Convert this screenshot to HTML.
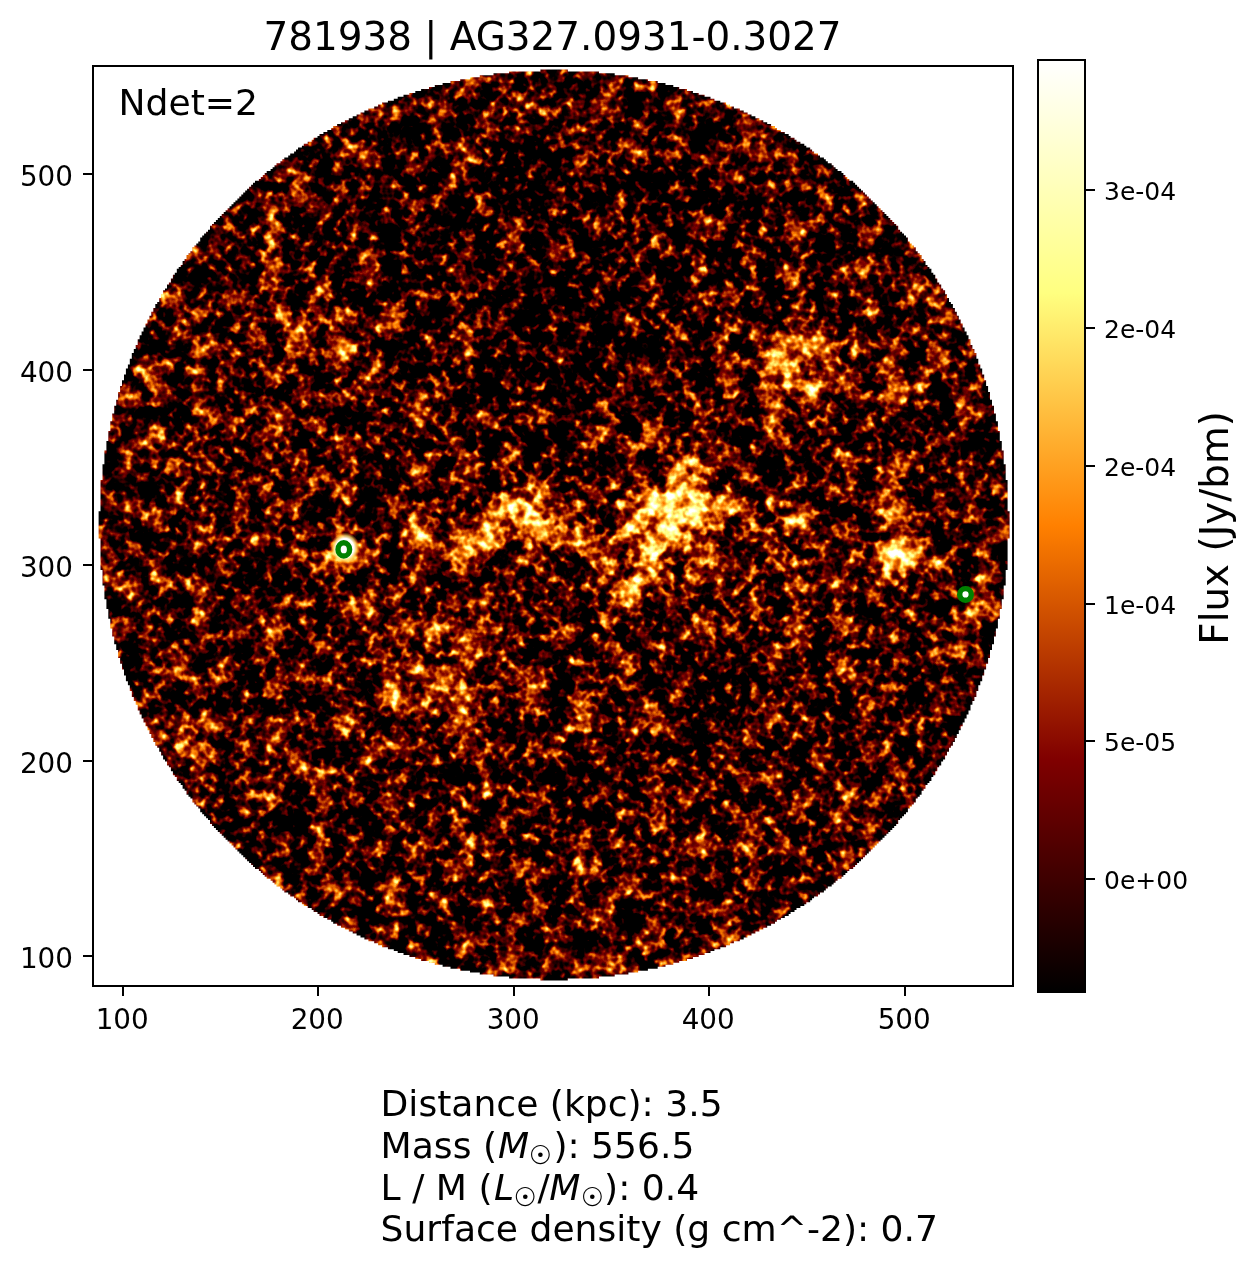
<!DOCTYPE html>
<html><head><meta charset="utf-8"><title>781938 | AG327.0931-0.3027</title>
<style>
html,body{margin:0;padding:0;background:#fff;width:1257px;height:1267px;overflow:hidden}
svg{position:absolute;left:0;top:0;display:block}
text{font-family:"DejaVu Sans","Liberation Sans",sans-serif;fill:#000}
.od{font-family:"Noto Serif CJK SC","DejaVu Sans",serif}
</style></head><body>
<svg width="1257" height="1267" viewBox="0 0 1257 1267">
<defs>
<linearGradient id="cb" x1="0" y1="1" x2="0" y2="0">
<stop offset="0" stop-color="#000"/>
<stop offset="0.25" stop-color="#800000"/>
<stop offset="0.5" stop-color="#ff8000"/>
<stop offset="0.75" stop-color="#ffff80"/>
<stop offset="1" stop-color="#fff"/>
</linearGradient>
<filter id="tex" x="94" y="66" width="918" height="918" filterUnits="userSpaceOnUse" color-interpolation-filters="sRGB">
<feTurbulence type="fractalNoise" baseFrequency="0.12" numOctaves="2" seed="21" result="t1"/>
<feColorMatrix in="t1" type="matrix" values="1 0 0 0 0  1 0 0 0 0  1 0 0 0 0  0 0 0 0 1" result="n1a"/>
<feComponentTransfer in="n1a" result="n1"><feFuncR type="gamma" amplitude="1.3" exponent="2" offset="0"/><feFuncG type="gamma" amplitude="1.3" exponent="2" offset="0"/><feFuncB type="gamma" amplitude="1.3" exponent="2" offset="0"/></feComponentTransfer>
<feTurbulence type="fractalNoise" baseFrequency="0.042" numOctaves="2" seed="29" result="t2"/>
<feColorMatrix in="t2" type="matrix" values="1 0 0 0 0  1 0 0 0 0  1 0 0 0 0  0 0 0 0 1" result="n2"/>
<feComposite in="n1" in2="n2" operator="arithmetic" k1="0" k2="0.5000" k3="0.6000" k4="0.0285" result="nn"/>
<feComposite in="SourceGraphic" in2="nn" operator="arithmetic" k1="0" k2="1" k3="2.0" k4="-1.2500" result="v"/>
<feComponentTransfer in="v">
<feFuncR type="table" tableValues="0 0.25 0.5 0.75 1 1 1 1 1"/>
<feFuncG type="table" tableValues="0 0 0 0.25 0.5 0.75 1 1 1"/>
<feFuncB type="table" tableValues="0 0 0 0 0 0.25 0.5 0.75 1"/>
<feFuncA type="linear" slope="0" intercept="1"/>
</feComponentTransfer>
</filter>
<radialGradient id="gw"><stop offset="0" stop-color="#fff" stop-opacity="1"/><stop offset="0.3" stop-color="#fff" stop-opacity="0.8"/><stop offset="0.6" stop-color="#fff" stop-opacity="0.35"/><stop offset="0.85" stop-color="#fff" stop-opacity="0.08"/><stop offset="1" stop-color="#fff" stop-opacity="0"/></radialGradient>
<radialGradient id="gk"><stop offset="0" stop-color="#000" stop-opacity="1"/><stop offset="0.3" stop-color="#000" stop-opacity="0.8"/><stop offset="0.6" stop-color="#000" stop-opacity="0.35"/><stop offset="0.85" stop-color="#000" stop-opacity="0.08"/><stop offset="1" stop-color="#000" stop-opacity="0"/></radialGradient>
<clipPath id="disc"><path d="M567.8 69.4 567.8 71.4 599.0 71.4 599.0 73.3 614.7 73.3 614.7 75.3 628.4 75.3 628.4 77.2 638.1 77.2 638.1 79.2 647.9 79.2 647.9 81.1 657.7 81.1 657.7 83.1 665.5 83.1 665.5 85.0 673.3 85.0 673.3 87.0 679.2 87.0 679.2 89.0 687.0 89.0 687.0 90.9 692.9 90.9 692.9 92.9 698.7 92.9 698.7 94.8 704.6 94.8 704.6 96.8 710.5 96.8 710.5 98.7 714.4 98.7 714.4 100.7 720.3 100.7 720.3 102.6 726.1 102.6 726.1 104.6 730.0 104.6 730.0 106.6 733.9 106.6 733.9 108.5 739.8 108.5 739.8 110.5 743.7 110.5 743.7 112.4 747.6 112.4 747.6 114.4 751.5 114.4 751.5 116.3 755.4 116.3 755.4 118.3 759.4 118.3 759.4 120.2 763.3 120.2 763.3 122.2 767.2 122.2 767.2 124.1 771.1 124.1 771.1 126.1 775.0 126.1 775.0 128.1 776.9 128.1 776.9 130.0 780.9 130.0 780.9 132.0 784.8 132.0 784.8 133.9 788.7 133.9 788.7 135.9 790.6 135.9 790.6 137.8 794.5 137.8 794.5 139.8 796.5 139.8 796.5 141.7 800.4 141.7 800.4 143.7 804.3 143.7 804.3 145.7 806.3 145.7 806.3 147.6 810.2 147.6 810.2 149.6 812.1 149.6 812.1 151.5 814.1 151.5 814.1 153.5 818.0 153.5 818.0 155.4 820.0 155.4 820.0 157.4 823.9 157.4 823.9 159.3 825.8 159.3 825.8 161.3 827.8 161.3 827.8 163.2 831.7 163.2 831.7 165.2 833.6 165.2 833.6 167.2 835.6 167.2 835.6 169.1 837.6 169.1 837.6 171.1 841.5 171.1 841.5 173.0 843.4 173.0 843.4 175.0 845.4 175.0 845.4 176.9 847.3 176.9 847.3 178.9 849.3 178.9 849.3 180.8 853.2 180.8 853.2 182.8 855.1 182.8 855.1 184.8 857.1 184.8 857.1 186.7 859.1 186.7 859.1 188.7 861.0 188.7 861.0 190.6 863.0 190.6 863.0 192.6 864.9 192.6 864.9 194.5 866.9 194.5 866.9 196.5 868.8 196.5 868.8 198.4 870.8 198.4 870.8 200.4 872.7 200.4 872.7 202.3 874.7 202.3 874.7 204.3 876.7 204.3 876.7 206.3 878.6 206.3 878.6 208.2 880.6 208.2 880.6 210.2 882.5 210.2 882.5 212.1 884.5 212.1 884.5 214.1 886.4 214.1 886.4 216.0 888.4 216.0 888.4 218.0 890.3 218.0 890.3 219.9 892.3 219.9 892.3 221.9 894.2 221.9 894.2 223.9 896.2 223.9 896.2 225.8 898.2 225.8 898.2 227.8 898.2 229.7 900.1 229.7 900.1 231.7 902.1 231.7 902.1 233.6 904.0 233.6 904.0 235.6 906.0 235.6 906.0 237.5 907.9 237.5 907.9 239.5 907.9 241.4 909.9 241.4 909.9 243.4 911.8 243.4 911.8 245.4 913.8 245.4 913.8 247.3 915.8 247.3 915.8 249.3 915.8 251.2 917.7 251.2 917.7 253.2 919.7 253.2 919.7 255.1 921.6 255.1 921.6 257.1 921.6 259.0 923.6 259.0 923.6 261.0 925.5 261.0 925.5 263.0 925.5 264.9 927.5 264.9 927.5 266.9 929.4 266.9 929.4 268.8 931.4 268.8 931.4 270.8 931.4 272.7 933.3 272.7 933.3 274.7 935.3 274.7 935.3 276.6 935.3 278.6 937.3 278.6 937.3 280.5 937.3 282.5 939.2 282.5 939.2 284.5 941.2 284.5 941.2 286.4 941.2 288.4 943.1 288.4 943.1 290.3 945.1 290.3 945.1 292.3 945.1 294.2 947.0 294.2 947.0 296.2 947.0 298.1 949.0 298.1 949.0 300.1 949.0 302.1 950.9 302.1 950.9 304.0 952.9 304.0 952.9 306.0 952.9 307.9 954.9 307.9 954.9 309.9 954.9 311.8 956.8 311.8 956.8 313.8 956.8 315.7 958.8 315.7 958.8 317.7 958.8 319.6 960.7 319.6 960.7 321.6 960.7 323.6 962.7 323.6 962.7 325.5 962.7 327.5 964.6 327.5 964.6 329.4 964.6 331.4 966.6 331.4 966.6 333.3 966.6 335.3 968.5 335.3 968.5 337.2 968.5 339.2 970.5 339.2 970.5 341.2 970.5 343.1 970.5 345.1 972.4 345.1 972.4 347.0 972.4 349.0 974.4 349.0 974.4 350.9 974.4 352.9 976.4 352.9 976.4 354.8 976.4 356.8 976.4 358.7 978.3 358.7 978.3 360.7 978.3 362.7 978.3 364.6 980.3 364.6 980.3 366.6 980.3 368.5 982.2 368.5 982.2 370.5 982.2 372.4 982.2 374.4 984.2 374.4 984.2 376.3 984.2 378.3 984.2 380.3 986.1 380.3 986.1 382.2 986.1 384.2 986.1 386.1 988.1 386.1 988.1 388.1 988.1 390.0 988.1 392.0 990.0 392.0 990.0 393.9 990.0 395.9 990.0 397.8 990.0 399.8 992.0 399.8 992.0 401.8 992.0 403.7 992.0 405.7 994.0 405.7 994.0 407.6 994.0 409.6 994.0 411.5 994.0 413.5 995.9 413.5 995.9 415.4 995.9 417.4 995.9 419.4 995.9 421.3 997.9 421.3 997.9 423.3 997.9 425.2 997.9 427.2 997.9 429.1 997.9 431.1 999.8 431.1 999.8 433.0 999.8 435.0 999.8 436.9 999.8 438.9 999.8 440.9 1001.8 440.9 1001.8 442.8 1001.8 444.8 1001.8 446.7 1001.8 448.7 1001.8 450.6 1003.7 450.6 1003.7 452.6 1003.7 454.5 1003.7 456.5 1003.7 458.5 1003.7 460.4 1003.7 462.4 1003.7 464.3 1005.7 464.3 1005.7 466.3 1005.7 468.2 1005.7 470.2 1005.7 472.1 1005.7 474.1 1005.7 476.0 1005.7 478.0 1005.7 480.0 1007.6 480.0 1007.6 481.9 1007.6 483.9 1007.6 485.8 1007.6 487.8 1007.6 489.7 1007.6 491.7 1007.6 493.6 1007.6 495.6 1007.6 497.6 1007.6 499.5 1007.6 501.5 1007.6 503.4 1007.6 505.4 1007.6 507.3 1007.6 509.3 1007.6 511.2 1009.6 511.2 1009.6 513.2 1009.6 515.1 1009.6 517.1 1009.6 519.1 1009.6 521.0 1009.6 523.0 1009.6 524.9 1009.6 526.9 1009.6 528.8 1009.6 530.8 1009.6 532.7 1009.6 534.7 1009.6 536.7 1009.6 538.6 1007.6 538.6 1007.6 540.6 1007.6 542.5 1007.6 544.5 1007.6 546.4 1007.6 548.4 1007.6 550.3 1007.6 552.3 1007.6 554.2 1007.6 556.2 1007.6 558.2 1007.6 560.1 1007.6 562.1 1007.6 564.0 1007.6 566.0 1007.6 567.9 1007.6 569.9 1005.7 569.9 1005.7 571.8 1005.7 573.8 1005.7 575.8 1005.7 577.7 1005.7 579.7 1005.7 581.6 1005.7 583.6 1005.7 585.5 1003.7 585.5 1003.7 587.5 1003.7 589.4 1003.7 591.4 1003.7 593.3 1003.7 595.3 1003.7 597.3 1003.7 599.2 1001.8 599.2 1001.8 601.2 1001.8 603.1 1001.8 605.1 1001.8 607.0 1001.8 609.0 999.8 609.0 999.8 610.9 999.8 612.9 999.8 614.9 999.8 616.8 999.8 618.8 997.9 618.8 997.9 620.7 997.9 622.7 997.9 624.6 997.9 626.6 997.9 628.5 995.9 628.5 995.9 630.5 995.9 632.4 995.9 634.4 995.9 636.4 994.0 636.4 994.0 638.3 994.0 640.3 994.0 642.2 994.0 644.2 992.0 644.2 992.0 646.1 992.0 648.1 992.0 650.0 990.0 650.0 990.0 652.0 990.0 654.0 990.0 655.9 990.0 657.9 988.1 657.9 988.1 659.8 988.1 661.8 988.1 663.7 986.1 663.7 986.1 665.7 986.1 667.6 986.1 669.6 984.2 669.6 984.2 671.5 984.2 673.5 984.2 675.5 982.2 675.5 982.2 677.4 982.2 679.4 982.2 681.3 980.3 681.3 980.3 683.3 980.3 685.2 978.3 685.2 978.3 687.2 978.3 689.1 978.3 691.1 976.4 691.1 976.4 693.1 976.4 695.0 976.4 697.0 974.4 697.0 974.4 698.9 974.4 700.9 972.4 700.9 972.4 702.8 972.4 704.8 970.5 704.8 970.5 706.7 970.5 708.7 970.5 710.6 968.5 710.6 968.5 712.6 968.5 714.6 966.6 714.6 966.6 716.5 966.6 718.5 964.6 718.5 964.6 720.4 964.6 722.4 962.7 722.4 962.7 724.3 962.7 726.3 960.7 726.3 960.7 728.2 960.7 730.2 958.8 730.2 958.8 732.2 958.8 734.1 956.8 734.1 956.8 736.1 956.8 738.0 954.9 738.0 954.9 740.0 954.9 741.9 952.9 741.9 952.9 743.9 952.9 745.8 950.9 745.8 950.9 747.8 949.0 747.8 949.0 749.7 949.0 751.7 947.0 751.7 947.0 753.7 947.0 755.6 945.1 755.6 945.1 757.6 945.1 759.5 943.1 759.5 943.1 761.5 941.2 761.5 941.2 763.4 941.2 765.4 939.2 765.4 939.2 767.3 937.3 767.3 937.3 769.3 937.3 771.3 935.3 771.3 935.3 773.2 935.3 775.2 933.3 775.2 933.3 777.1 931.4 777.1 931.4 779.1 931.4 781.0 929.4 781.0 929.4 783.0 927.5 783.0 927.5 784.9 925.5 784.9 925.5 786.9 925.5 788.8 923.6 788.8 923.6 790.8 921.6 790.8 921.6 792.8 921.6 794.7 919.7 794.7 919.7 796.7 917.7 796.7 917.7 798.6 915.8 798.6 915.8 800.6 915.8 802.5 913.8 802.5 913.8 804.5 911.8 804.5 911.8 806.4 909.9 806.4 909.9 808.4 907.9 808.4 907.9 810.4 907.9 812.3 906.0 812.3 906.0 814.3 904.0 814.3 904.0 816.2 902.1 816.2 902.1 818.2 900.1 818.2 900.1 820.1 898.2 820.1 898.2 822.1 898.2 824.0 896.2 824.0 896.2 826.0 894.2 826.0 894.2 827.9 892.3 827.9 892.3 829.9 890.3 829.9 890.3 831.9 888.4 831.9 888.4 833.8 886.4 833.8 886.4 835.8 884.5 835.8 884.5 837.7 882.5 837.7 882.5 839.7 880.6 839.7 880.6 841.6 878.6 841.6 878.6 843.6 876.7 843.6 876.7 845.5 874.7 845.5 874.7 847.5 872.7 847.5 872.7 849.5 870.8 849.5 870.8 851.4 868.8 851.4 868.8 853.4 866.9 853.4 866.9 855.3 864.9 855.3 864.9 857.3 863.0 857.3 863.0 859.2 861.0 859.2 861.0 861.2 859.1 861.2 859.1 863.1 857.1 863.1 857.1 865.1 855.1 865.1 855.1 867.0 853.2 867.0 853.2 869.0 849.3 869.0 849.3 871.0 847.3 871.0 847.3 872.9 845.4 872.9 845.4 874.9 843.4 874.9 843.4 876.8 841.5 876.8 841.5 878.8 837.6 878.8 837.6 880.7 835.6 880.7 835.6 882.7 833.6 882.7 833.6 884.6 831.7 884.6 831.7 886.6 827.8 886.6 827.8 888.6 825.8 888.6 825.8 890.5 823.9 890.5 823.9 892.5 820.0 892.5 820.0 894.4 818.0 894.4 818.0 896.4 814.1 896.4 814.1 898.3 812.1 898.3 812.1 900.3 810.2 900.3 810.2 902.2 806.3 902.2 806.3 904.2 804.3 904.2 804.3 906.1 800.4 906.1 800.4 908.1 796.5 908.1 796.5 910.1 794.5 910.1 794.5 912.0 790.6 912.0 790.6 914.0 788.7 914.0 788.7 915.9 784.8 915.9 784.8 917.9 780.9 917.9 780.9 919.8 776.9 919.8 776.9 921.8 775.0 921.8 775.0 923.7 771.1 923.7 771.1 925.7 767.2 925.7 767.2 927.7 763.3 927.7 763.3 929.6 759.4 929.6 759.4 931.6 755.4 931.6 755.4 933.5 751.5 933.5 751.5 935.5 747.6 935.5 747.6 937.4 743.7 937.4 743.7 939.4 739.8 939.4 739.8 941.3 733.9 941.3 733.9 943.3 730.0 943.3 730.0 945.2 726.1 945.2 726.1 947.2 720.3 947.2 720.3 949.2 714.4 949.2 714.4 951.1 710.5 951.1 710.5 953.1 704.6 953.1 704.6 955.0 698.7 955.0 698.7 957.0 692.9 957.0 692.9 958.9 687.0 958.9 687.0 960.9 679.2 960.9 679.2 962.8 673.3 962.8 673.3 964.8 665.5 964.8 665.5 966.8 657.7 966.8 657.7 968.7 647.9 968.7 647.9 970.7 638.1 970.7 638.1 972.6 628.4 972.6 628.4 974.6 614.7 974.6 614.7 976.5 599.0 976.5 599.0 978.5 567.8 978.5 567.8 980.4 540.4 980.4 540.4 978.5 509.1 978.5 509.1 976.5 493.5 976.5 493.5 974.6 479.8 974.6 479.8 972.6 470.0 972.6 470.0 970.7 460.2 970.7 460.2 968.7 450.5 968.7 450.5 966.8 442.6 966.8 442.6 964.8 434.8 964.8 434.8 962.8 429.0 962.8 429.0 960.9 421.1 960.9 421.1 958.9 415.3 958.9 415.3 957.0 409.4 957.0 409.4 955.0 403.5 955.0 403.5 953.1 397.7 953.1 397.7 951.1 393.8 951.1 393.8 949.2 387.9 949.2 387.9 947.2 382.0 947.2 382.0 945.2 378.1 945.2 378.1 943.3 374.2 943.3 374.2 941.3 368.4 941.3 368.4 939.4 364.4 939.4 364.4 937.4 360.5 937.4 360.5 935.5 356.6 935.5 356.6 933.5 352.7 933.5 352.7 931.6 348.8 931.6 348.8 929.6 344.9 929.6 344.9 927.7 341.0 927.7 341.0 925.7 337.1 925.7 337.1 923.7 333.2 923.7 333.2 921.8 331.2 921.8 331.2 919.8 327.3 919.8 327.3 917.9 323.4 917.9 323.4 915.9 319.5 915.9 319.5 914.0 317.5 914.0 317.5 912.0 313.6 912.0 313.6 910.1 311.7 910.1 311.7 908.1 307.7 908.1 307.7 906.1 303.8 906.1 303.8 904.2 301.9 904.2 301.9 902.2 298.0 902.2 298.0 900.3 296.0 900.3 296.0 898.3 294.1 898.3 294.1 896.4 290.2 896.4 290.2 894.4 288.2 894.4 288.2 892.5 284.3 892.5 284.3 890.5 282.3 890.5 282.3 888.6 280.4 888.6 280.4 886.6 276.5 886.6 276.5 884.6 274.5 884.6 274.5 882.7 272.6 882.7 272.6 880.7 270.6 880.7 270.6 878.8 266.7 878.8 266.7 876.8 264.7 876.8 264.7 874.9 262.8 874.9 262.8 872.9 260.8 872.9 260.8 871.0 258.9 871.0 258.9 869.0 255.0 869.0 255.0 867.0 253.0 867.0 253.0 865.1 251.1 865.1 251.1 863.1 249.1 863.1 249.1 861.2 247.1 861.2 247.1 859.2 245.2 859.2 245.2 857.3 243.2 857.3 243.2 855.3 241.3 855.3 241.3 853.4 239.3 853.4 239.3 851.4 237.4 851.4 237.4 849.5 235.4 849.5 235.4 847.5 233.5 847.5 233.5 845.5 231.5 845.5 231.5 843.6 229.5 843.6 229.5 841.6 227.6 841.6 227.6 839.7 225.6 839.7 225.6 837.7 223.7 837.7 223.7 835.8 221.7 835.8 221.7 833.8 219.8 833.8 219.8 831.9 217.8 831.9 217.8 829.9 215.9 829.9 215.9 827.9 213.9 827.9 213.9 826.0 212.0 826.0 212.0 824.0 210.0 824.0 210.0 822.1 210.0 820.1 208.0 820.1 208.0 818.2 206.1 818.2 206.1 816.2 204.1 816.2 204.1 814.3 202.2 814.3 202.2 812.3 200.2 812.3 200.2 810.4 200.2 808.4 198.3 808.4 198.3 806.4 196.3 806.4 196.3 804.5 194.4 804.5 194.4 802.5 192.4 802.5 192.4 800.6 192.4 798.6 190.4 798.6 190.4 796.7 188.5 796.7 188.5 794.7 186.5 794.7 186.5 792.8 186.5 790.8 184.6 790.8 184.6 788.8 182.6 788.8 182.6 786.9 182.6 784.9 180.7 784.9 180.7 783.0 178.7 783.0 178.7 781.0 176.8 781.0 176.8 779.1 176.8 777.1 174.8 777.1 174.8 775.2 172.9 775.2 172.9 773.2 172.9 771.3 170.9 771.3 170.9 769.3 170.9 767.3 168.9 767.3 168.9 765.4 167.0 765.4 167.0 763.4 167.0 761.5 165.0 761.5 165.0 759.5 163.1 759.5 163.1 757.6 163.1 755.6 161.1 755.6 161.1 753.7 161.1 751.7 159.2 751.7 159.2 749.7 159.2 747.8 157.2 747.8 157.2 745.8 155.3 745.8 155.3 743.9 155.3 741.9 153.3 741.9 153.3 740.0 153.3 738.0 151.3 738.0 151.3 736.1 151.3 734.1 149.4 734.1 149.4 732.2 149.4 730.2 147.4 730.2 147.4 728.2 147.4 726.3 145.5 726.3 145.5 724.3 145.5 722.4 143.5 722.4 143.5 720.4 143.5 718.5 141.6 718.5 141.6 716.5 141.6 714.6 139.6 714.6 139.6 712.6 139.6 710.6 137.7 710.6 137.7 708.7 137.7 706.7 137.7 704.8 135.7 704.8 135.7 702.8 135.7 700.9 133.8 700.9 133.8 698.9 133.8 697.0 131.8 697.0 131.8 695.0 131.8 693.1 131.8 691.1 129.8 691.1 129.8 689.1 129.8 687.2 129.8 685.2 127.9 685.2 127.9 683.3 127.9 681.3 125.9 681.3 125.9 679.4 125.9 677.4 125.9 675.5 124.0 675.5 124.0 673.5 124.0 671.5 124.0 669.6 122.0 669.6 122.0 667.6 122.0 665.7 122.0 663.7 120.1 663.7 120.1 661.8 120.1 659.8 120.1 657.9 118.1 657.9 118.1 655.9 118.1 654.0 118.1 652.0 118.1 650.0 116.2 650.0 116.2 648.1 116.2 646.1 116.2 644.2 114.2 644.2 114.2 642.2 114.2 640.3 114.2 638.3 114.2 636.4 112.2 636.4 112.2 634.4 112.2 632.4 112.2 630.5 112.2 628.5 110.3 628.5 110.3 626.6 110.3 624.6 110.3 622.7 110.3 620.7 110.3 618.8 108.3 618.8 108.3 616.8 108.3 614.9 108.3 612.9 108.3 610.9 108.3 609.0 106.4 609.0 106.4 607.0 106.4 605.1 106.4 603.1 106.4 601.2 106.4 599.2 104.4 599.2 104.4 597.3 104.4 595.3 104.4 593.3 104.4 591.4 104.4 589.4 104.4 587.5 104.4 585.5 102.5 585.5 102.5 583.6 102.5 581.6 102.5 579.7 102.5 577.7 102.5 575.8 102.5 573.8 102.5 571.8 102.5 569.9 100.5 569.9 100.5 567.9 100.5 566.0 100.5 564.0 100.5 562.1 100.5 560.1 100.5 558.2 100.5 556.2 100.5 554.2 100.5 552.3 100.5 550.3 100.5 548.4 100.5 546.4 100.5 544.5 100.5 542.5 100.5 540.6 100.5 538.6 98.6 538.6 98.6 536.7 98.6 534.7 98.6 532.7 98.6 530.8 98.6 528.8 98.6 526.9 98.6 524.9 98.6 523.0 98.6 521.0 98.6 519.1 98.6 517.1 98.6 515.1 98.6 513.2 98.6 511.2 100.5 511.2 100.5 509.3 100.5 507.3 100.5 505.4 100.5 503.4 100.5 501.5 100.5 499.5 100.5 497.6 100.5 495.6 100.5 493.6 100.5 491.7 100.5 489.7 100.5 487.8 100.5 485.8 100.5 483.9 100.5 481.9 100.5 480.0 102.5 480.0 102.5 478.0 102.5 476.0 102.5 474.1 102.5 472.1 102.5 470.2 102.5 468.2 102.5 466.3 102.5 464.3 104.4 464.3 104.4 462.4 104.4 460.4 104.4 458.5 104.4 456.5 104.4 454.5 104.4 452.6 104.4 450.6 106.4 450.6 106.4 448.7 106.4 446.7 106.4 444.8 106.4 442.8 106.4 440.9 108.3 440.9 108.3 438.9 108.3 436.9 108.3 435.0 108.3 433.0 108.3 431.1 110.3 431.1 110.3 429.1 110.3 427.2 110.3 425.2 110.3 423.3 110.3 421.3 112.2 421.3 112.2 419.4 112.2 417.4 112.2 415.4 112.2 413.5 114.2 413.5 114.2 411.5 114.2 409.6 114.2 407.6 114.2 405.7 116.2 405.7 116.2 403.7 116.2 401.8 116.2 399.8 118.1 399.8 118.1 397.8 118.1 395.9 118.1 393.9 118.1 392.0 120.1 392.0 120.1 390.0 120.1 388.1 120.1 386.1 122.0 386.1 122.0 384.2 122.0 382.2 122.0 380.3 124.0 380.3 124.0 378.3 124.0 376.3 124.0 374.4 125.9 374.4 125.9 372.4 125.9 370.5 125.9 368.5 127.9 368.5 127.9 366.6 127.9 364.6 129.8 364.6 129.8 362.7 129.8 360.7 129.8 358.7 131.8 358.7 131.8 356.8 131.8 354.8 131.8 352.9 133.8 352.9 133.8 350.9 133.8 349.0 135.7 349.0 135.7 347.0 135.7 345.1 137.7 345.1 137.7 343.1 137.7 341.2 137.7 339.2 139.6 339.2 139.6 337.2 139.6 335.3 141.6 335.3 141.6 333.3 141.6 331.4 143.5 331.4 143.5 329.4 143.5 327.5 145.5 327.5 145.5 325.5 145.5 323.6 147.4 323.6 147.4 321.6 147.4 319.6 149.4 319.6 149.4 317.7 149.4 315.7 151.3 315.7 151.3 313.8 151.3 311.8 153.3 311.8 153.3 309.9 153.3 307.9 155.3 307.9 155.3 306.0 155.3 304.0 157.2 304.0 157.2 302.1 159.2 302.1 159.2 300.1 159.2 298.1 161.1 298.1 161.1 296.2 161.1 294.2 163.1 294.2 163.1 292.3 163.1 290.3 165.0 290.3 165.0 288.4 167.0 288.4 167.0 286.4 167.0 284.5 168.9 284.5 168.9 282.5 170.9 282.5 170.9 280.5 170.9 278.6 172.9 278.6 172.9 276.6 172.9 274.7 174.8 274.7 174.8 272.7 176.8 272.7 176.8 270.8 176.8 268.8 178.7 268.8 178.7 266.9 180.7 266.9 180.7 264.9 182.6 264.9 182.6 263.0 182.6 261.0 184.6 261.0 184.6 259.0 186.5 259.0 186.5 257.1 186.5 255.1 188.5 255.1 188.5 253.2 190.4 253.2 190.4 251.2 192.4 251.2 192.4 249.3 192.4 247.3 194.4 247.3 194.4 245.4 196.3 245.4 196.3 243.4 198.3 243.4 198.3 241.4 200.2 241.4 200.2 239.5 200.2 237.5 202.2 237.5 202.2 235.6 204.1 235.6 204.1 233.6 206.1 233.6 206.1 231.7 208.0 231.7 208.0 229.7 210.0 229.7 210.0 227.8 210.0 225.8 212.0 225.8 212.0 223.9 213.9 223.9 213.9 221.9 215.9 221.9 215.9 219.9 217.8 219.9 217.8 218.0 219.8 218.0 219.8 216.0 221.7 216.0 221.7 214.1 223.7 214.1 223.7 212.1 225.6 212.1 225.6 210.2 227.6 210.2 227.6 208.2 229.5 208.2 229.5 206.3 231.5 206.3 231.5 204.3 233.5 204.3 233.5 202.3 235.4 202.3 235.4 200.4 237.4 200.4 237.4 198.4 239.3 198.4 239.3 196.5 241.3 196.5 241.3 194.5 243.2 194.5 243.2 192.6 245.2 192.6 245.2 190.6 247.1 190.6 247.1 188.7 249.1 188.7 249.1 186.7 251.1 186.7 251.1 184.8 253.0 184.8 253.0 182.8 255.0 182.8 255.0 180.8 258.9 180.8 258.9 178.9 260.8 178.9 260.8 176.9 262.8 176.9 262.8 175.0 264.7 175.0 264.7 173.0 266.7 173.0 266.7 171.1 270.6 171.1 270.6 169.1 272.6 169.1 272.6 167.2 274.5 167.2 274.5 165.2 276.5 165.2 276.5 163.2 280.4 163.2 280.4 161.3 282.3 161.3 282.3 159.3 284.3 159.3 284.3 157.4 288.2 157.4 288.2 155.4 290.2 155.4 290.2 153.5 294.1 153.5 294.1 151.5 296.0 151.5 296.0 149.6 298.0 149.6 298.0 147.6 301.9 147.6 301.9 145.7 303.8 145.7 303.8 143.7 307.7 143.7 307.7 141.7 311.7 141.7 311.7 139.8 313.6 139.8 313.6 137.8 317.5 137.8 317.5 135.9 319.5 135.9 319.5 133.9 323.4 133.9 323.4 132.0 327.3 132.0 327.3 130.0 331.2 130.0 331.2 128.1 333.2 128.1 333.2 126.1 337.1 126.1 337.1 124.1 341.0 124.1 341.0 122.2 344.9 122.2 344.9 120.2 348.8 120.2 348.8 118.3 352.7 118.3 352.7 116.3 356.6 116.3 356.6 114.4 360.5 114.4 360.5 112.4 364.4 112.4 364.4 110.5 368.4 110.5 368.4 108.5 374.2 108.5 374.2 106.6 378.1 106.6 378.1 104.6 382.0 104.6 382.0 102.6 387.9 102.6 387.9 100.7 393.8 100.7 393.8 98.7 397.7 98.7 397.7 96.8 403.5 96.8 403.5 94.8 409.4 94.8 409.4 92.9 415.3 92.9 415.3 90.9 421.1 90.9 421.1 89.0 429.0 89.0 429.0 87.0 434.8 87.0 434.8 85.0 442.6 85.0 442.6 83.1 450.5 83.1 450.5 81.1 460.2 81.1 460.2 79.2 470.0 79.2 470.0 77.2 479.8 77.2 479.8 75.3 493.5 75.3 493.5 73.3 509.1 73.3 509.1 71.4 540.4 71.4 540.4 69.4Z"/></clipPath>
</defs>
<rect width="1257" height="1267" fill="#fff"/>
<!-- image disc -->
<g clip-path="url(#disc)"><g filter="url(#tex)">
<rect x="94" y="66" width="918" height="918" fill="rgb(92,92,92)"/>
<ellipse cx="553" cy="250" rx="380" ry="180" fill="url(#gk)" opacity="0.200"/>
<ellipse cx="570" cy="330" rx="112.0" ry="96.0" fill="url(#gk)" opacity="0.350"/>
<ellipse cx="420" cy="210" rx="80.0" ry="64.0" fill="url(#gk)" opacity="0.300"/>
<ellipse cx="530" cy="175" rx="64.0" ry="48.0" fill="url(#gk)" opacity="0.250"/>
<ellipse cx="695" cy="185" rx="72.0" ry="48.0" fill="url(#gk)" opacity="0.250"/>
<ellipse cx="705" cy="700" rx="72.0" ry="64.0" fill="url(#gk)" opacity="0.300"/>
<ellipse cx="570" cy="790" rx="72.0" ry="64.0" fill="url(#gk)" opacity="0.300"/>
<ellipse cx="310" cy="830" rx="72.0" ry="64.0" fill="url(#gk)" opacity="0.200"/>
<ellipse cx="440" cy="650" rx="90" ry="80" fill="url(#gw)" opacity="0.278"/>
<ellipse cx="450" cy="545" rx="60" ry="40" fill="url(#gw)" opacity="0.306"/>
<ellipse cx="525" cy="405" rx="90" ry="70" fill="url(#gk)" opacity="0.300"/>
<ellipse cx="690" cy="525" rx="60" ry="55" fill="url(#gw)" opacity="0.347"/>
<ellipse cx="670" cy="530" rx="152.0" ry="128.0" fill="url(#gw)" opacity="0.208"/>
<ellipse cx="673" cy="512" rx="60.8" ry="52.8" fill="url(#gw)" opacity="1.000"/>
<ellipse cx="692" cy="494" rx="35.2" ry="28.8" fill="url(#gw)" opacity="0.486"/>
<ellipse cx="641" cy="556" rx="28.8" ry="35.2" fill="url(#gw)" opacity="0.695"/>
<ellipse cx="628" cy="592" rx="24.0" ry="24.0" fill="url(#gw)" opacity="0.764"/>
<ellipse cx="740" cy="500" rx="22.4" ry="16.0" fill="url(#gw)" opacity="0.486"/>
<ellipse cx="695" cy="463" rx="32.0" ry="16.0" fill="url(#gw)" opacity="0.417"/>
<ellipse cx="583" cy="546" rx="25.6" ry="16.0" fill="url(#gw)" opacity="0.417"/>
<ellipse cx="780" cy="526" rx="35.2" ry="22.4" fill="url(#gw)" opacity="0.347"/>
<ellipse cx="713" cy="582" rx="32.0" ry="19.2" fill="url(#gw)" opacity="0.347"/>
<ellipse cx="737" cy="535" rx="35.2" ry="28.8" fill="url(#gk)" opacity="0.300"/>
<ellipse cx="588" cy="462" rx="51.2" ry="32.0" fill="url(#gk)" opacity="0.300"/>
<ellipse cx="765" cy="477" rx="54.4" ry="32.0" fill="url(#gk)" opacity="0.300"/>
<ellipse cx="528" cy="515" rx="64.0" ry="38.4" fill="url(#gw)" opacity="0.764"/>
<ellipse cx="512" cy="511" rx="22.4" ry="19.2" fill="url(#gw)" opacity="0.417"/>
<ellipse cx="554" cy="516" rx="19.2" ry="19.2" fill="url(#gw)" opacity="0.417"/>
<ellipse cx="480" cy="547" rx="32.0" ry="28.8" fill="url(#gw)" opacity="0.695"/>
<ellipse cx="417" cy="538" rx="25.6" ry="22.4" fill="url(#gw)" opacity="0.486"/>
<ellipse cx="421" cy="468" rx="16.0" ry="12.8" fill="url(#gw)" opacity="0.417"/>
<ellipse cx="465" cy="477" rx="25.6" ry="16.0" fill="url(#gw)" opacity="0.347"/>
<ellipse cx="546" cy="555" rx="12.8" ry="9.6" fill="url(#gw)" opacity="0.417"/>
<ellipse cx="390" cy="595" rx="24.0" ry="40.0" fill="url(#gw)" opacity="0.278"/>
<ellipse cx="470" cy="508" rx="16.0" ry="19.2" fill="url(#gk)" opacity="0.200"/>
<ellipse cx="560" cy="474" rx="48.0" ry="35.2" fill="url(#gk)" opacity="0.200"/>
<ellipse cx="900" cy="556" rx="51.2" ry="35.2" fill="url(#gw)" opacity="0.764"/>
<ellipse cx="893" cy="508" rx="32.0" ry="51.2" fill="url(#gw)" opacity="0.417"/>
<ellipse cx="882" cy="493" rx="16.0" ry="16.0" fill="url(#gw)" opacity="0.417"/>
<ellipse cx="910" cy="465" rx="19.2" ry="12.8" fill="url(#gw)" opacity="0.347"/>
<ellipse cx="946" cy="561" rx="19.2" ry="14.4" fill="url(#gw)" opacity="0.417"/>
<ellipse cx="976" cy="619" rx="25.6" ry="22.4" fill="url(#gw)" opacity="0.556"/>
<ellipse cx="837" cy="620" rx="16.0" ry="14.4" fill="url(#gw)" opacity="0.417"/>
<ellipse cx="802" cy="524" rx="35.2" ry="32.0" fill="url(#gw)" opacity="0.278"/>
<ellipse cx="813" cy="608" rx="52.8" ry="52.8" fill="url(#gw)" opacity="0.167"/>
<ellipse cx="932" cy="512" rx="32.0" ry="43.2" fill="url(#gk)" opacity="0.450"/>
<ellipse cx="968" cy="442" rx="52.8" ry="35.2" fill="url(#gk)" opacity="0.250"/>
<ellipse cx="807" cy="484" rx="27.2" ry="32.0" fill="url(#gk)" opacity="0.350"/>
<ellipse cx="886" cy="668" rx="28.8" ry="44.8" fill="url(#gk)" opacity="0.200"/>
<ellipse cx="800" cy="367" rx="67.2" ry="67.2" fill="url(#gw)" opacity="0.556"/>
<ellipse cx="780" cy="361" rx="12.8" ry="12.8" fill="url(#gw)" opacity="0.417"/>
<ellipse cx="784" cy="383" rx="12.8" ry="12.8" fill="url(#gw)" opacity="0.417"/>
<ellipse cx="823" cy="349" rx="12.8" ry="12.8" fill="url(#gw)" opacity="0.417"/>
<ellipse cx="811" cy="389" rx="16.0" ry="12.8" fill="url(#gw)" opacity="0.417"/>
<ellipse cx="863" cy="387" rx="19.2" ry="22.4" fill="url(#gw)" opacity="0.347"/>
<ellipse cx="915" cy="387" rx="38.4" ry="22.4" fill="url(#gw)" opacity="0.278"/>
<ellipse cx="865" cy="270" rx="22.4" ry="16.0" fill="url(#gw)" opacity="0.417"/>
<ellipse cx="916" cy="278" rx="14.4" ry="12.8" fill="url(#gw)" opacity="0.347"/>
<ellipse cx="758" cy="330" rx="35.2" ry="12.8" fill="url(#gw)" opacity="0.278"/>
<ellipse cx="343" cy="549" rx="40" ry="40" fill="url(#gw)" opacity="0.278"/>
<ellipse cx="344" cy="549" rx="18" ry="19" fill="url(#gw)" opacity="0.973"/>
<ellipse cx="966" cy="596" rx="20.8" ry="20.8" fill="url(#gw)" opacity="0.695"/>
<ellipse cx="443" cy="700" rx="128.0" ry="72.0" fill="url(#gw)" opacity="0.208"/>
<ellipse cx="190" cy="737" rx="48.0" ry="56.0" fill="url(#gw)" opacity="0.278"/>
<ellipse cx="300" cy="330" rx="64.0" ry="56.0" fill="url(#gw)" opacity="0.250"/>
<ellipse cx="255" cy="440" rx="64.0" ry="64.0" fill="url(#gw)" opacity="0.139"/>
<ellipse cx="283" cy="310" rx="16.0" ry="16.0" fill="url(#gw)" opacity="0.347"/>
<ellipse cx="343" cy="350" rx="19.2" ry="19.2" fill="url(#gw)" opacity="0.417"/>
<ellipse cx="583" cy="717" rx="32.0" ry="32.0" fill="url(#gw)" opacity="0.278"/>
<ellipse cx="673" cy="512" rx="40" ry="35" fill="url(#gw)" opacity="0.834"/>
<ellipse cx="590" cy="540" rx="30" ry="25" fill="url(#gw)" opacity="0.417"/>
<ellipse cx="680" cy="505" rx="30" ry="28" fill="url(#gw)" opacity="0.973"/>
<ellipse cx="520" cy="517" rx="40" ry="25" fill="url(#gw)" opacity="0.417"/>
<ellipse cx="900" cy="553" rx="30" ry="22" fill="url(#gw)" opacity="0.486"/>
<ellipse cx="672" cy="515" rx="48" ry="42" fill="url(#gw)" opacity="0.625"/>
<ellipse cx="898" cy="556" rx="26" ry="20" fill="url(#gw)" opacity="0.556"/>
</g></g>
<!-- markers -->
<radialGradient id="halo"><stop offset="0" stop-color="#fff"/><stop offset="0.62" stop-color="#fff"/><stop offset="0.8" stop-color="#ffe070" stop-opacity="0.75"/><stop offset="1" stop-color="#ff9a20" stop-opacity="0"/></radialGradient>
<ellipse cx="345" cy="548" rx="14.5" ry="15.5" fill="url(#halo)"/>
<ellipse cx="343.8" cy="549.4" rx="5.8" ry="6.6" fill="#fff" stroke="#008000" stroke-width="5.4"/>
<circle cx="965.5" cy="594.4" r="5.8" fill="#fff" stroke="#008000" stroke-width="5.4"/>
<!-- axes frame -->
<rect x="93" y="66" width="920" height="920" fill="none" stroke="#000" stroke-width="2"/>
<g stroke="#000" stroke-width="2">
<path d="M123 987V996M318 987V996M514 987V996M709 987V996M905 987V996"/>
<path d="M83 956H92M83 761H92M83 565H92M83 370H92M83 174H92"/>
</g>
<g font-size="27.8" text-anchor="middle">
<text x="122.2" y="1028.7">100</text>
<text x="317.2" y="1028.7">200</text>
<text x="513.2" y="1028.7">300</text>
<text x="708.2" y="1028.7">400</text>
<text x="904.2" y="1028.7">500</text>
</g>
<g font-size="27.8" text-anchor="end">
<text x="73" y="967.6">100</text>
<text x="73" y="772.6">200</text>
<text x="73" y="576.6">300</text>
<text x="73" y="381.6">400</text>
<text x="73" y="185.6">500</text>
</g>
<text x="552.5" y="49.9" font-size="38.9" text-anchor="middle">781938 | AG327.0931-0.3027</text>
<text x="118.6" y="115" font-size="36.1">Ndet=2</text>
<!-- colorbar -->
<rect x="1038" y="60" width="47" height="932" fill="url(#cb)"/>
<rect x="1038" y="60" width="47" height="932" fill="none" stroke="#000" stroke-width="2"/>
<g stroke="#000" stroke-width="2">
<path d="M1086 190H1095M1086 328H1095M1086 466H1095M1086 604H1095M1086 741H1095M1086 879H1095"/>
</g>
<g font-size="25">
<text x="1104" y="200.2">3e-04</text>
<text x="1104" y="338.2">2e-04</text>
<text x="1104" y="476.2">2e-04</text>
<text x="1104" y="614.2">1e-04</text>
<text x="1104" y="751.2">5e-05</text>
<text x="1104" y="889.2">0e+00</text>
</g>
<text transform="translate(1228,644.7) rotate(-90)" font-size="38.9">Flux (Jy/bm)</text>
<!-- info text -->
<g font-size="36.1">
<text x="380.6" y="1115.8">Distance (kpc): 3.5</text>
<text x="380.6" y="1157.8">Mass (</text>
<text x="497.93" y="1157.8" font-style="italic">M</text>
<text x="527.71" y="1163.5" font-size="25.3" class="od">⊙</text>
<text x="553.41" y="1157.8">): 556.5</text>
<text x="380.6" y="1200.1">L / M (</text>
<text x="494.03" y="1200.1" font-style="italic">L</text>
<text x="512.61" y="1205.85" font-size="25.3" class="od">⊙</text>
<text x="537.4" y="1200.1">/</text>
<text x="549.23" y="1200.1" font-style="italic">M</text>
<text x="579.71" y="1205.85" font-size="25.3" class="od">⊙</text>
<text x="604.11" y="1200.1">): 0.4</text>
<g fill="#000"><circle cx="540.4" cy="1154.7" r="2.3"/><circle cx="525.3" cy="1196.7" r="2.3"/><circle cx="592.3" cy="1196.7" r="2.3"/></g>
<text x="380.6" y="1240.8">Surface density (g cm^-2): 0.7</text>
</g>
</svg>
</body></html>
